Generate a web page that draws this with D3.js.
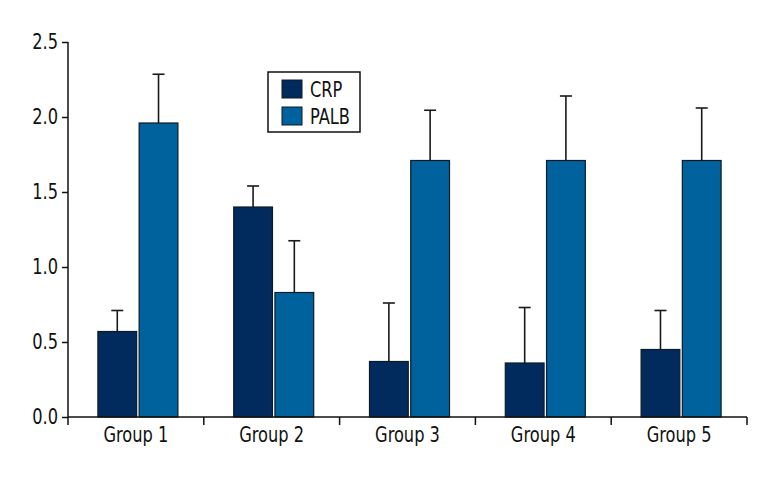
<!DOCTYPE html>
<html><head><meta charset="utf-8">
<script src="https://cdn.jsdelivr.net/npm/d3@7"></script>
<style>
body{margin:0;background:#fff;}
text{font-family:"DejaVu Sans Condensed","DejaVu Sans",sans-serif;font-stretch:condensed;fill:#111;}
</style></head>
<body><svg id="c" width="768" height="480"></svg>
<script>
const groups = ["Group 1","Group 2","Group 3","Group 4","Group 5"];
const seriesNames = ["CRP","PALB"];
const crpMean = [0.57, 1.40, 0.37, 0.36, 0.45];
const crpErr  = [0.71, 1.54, 0.76, 0.73, 0.71];
const palbMean = [1.96, 0.83, 1.71, 1.71, 1.71];
const palbErr  = [2.285, 1.175, 2.045, 2.14, 2.06];
const yTicks = [0, 0.5, 1.0, 1.5, 2.0, 2.5];
const colors = ["#002b5c", "#00629d"];

const svg = d3.select("#c");
const x0 = 68, x1 = 747, yTop = 42, yBot = 417;
const x = d3.scaleBand().domain(groups).range([x0, x1]).paddingInner(0).paddingOuter(0);
const y = d3.scaleLinear().domain([0, 2.5]).range([yBot, yTop]);
const xs = d3.scaleBand().domain(seriesNames).range([0, 80]).paddingInner(0.06);
const offset = (x.bandwidth() - 80) / 2 + 2;
const sx = 0.86;

const data = [];
groups.forEach((g, i) => {
  data.push({g, s: "CRP", v: crpMean[i], e: crpErr[i]});
  data.push({g, s: "PALB", v: palbMean[i], e: palbErr[i]});
});

const eb = svg.append("g");
data.forEach(d => {
  const cx = x(d.g) + offset + xs(d.s) + xs.bandwidth() / 2;
  eb.append("line").attr("x1", cx).attr("x2", cx).attr("y1", y(d.v)).attr("y2", y(d.e))
    .attr("stroke", "#1a1a1a").attr("stroke-width", 1.6);
  eb.append("line").attr("x1", cx - 6).attr("x2", cx + 6).attr("y1", y(d.e)).attr("y2", y(d.e))
    .attr("stroke", "#1a1a1a").attr("stroke-width", 1.6);
});

svg.append("g").selectAll("rect").data(data).join("rect")
  .attr("x", d => x(d.g) + offset + xs(d.s))
  .attr("y", d => y(d.v))
  .attr("width", xs.bandwidth())
  .attr("height", d => y(0) - y(d.v))
  .attr("fill", d => colors[seriesNames.indexOf(d.s)])
  .attr("stroke", "#0d1a26").attr("stroke-width", 1.2);

const yAxis = svg.append("g").attr("transform", `translate(${x0},0)`)
  .call(d3.axisLeft(y).tickValues(yTicks).tickFormat(d3.format(".1f")).tickSize(6).tickPadding(4));
yAxis.select(".domain").attr("d", `M0,${yTop}V${yBot}`).attr("stroke", "#111").attr("stroke-width", 1.5);
yAxis.selectAll(".tick line").attr("stroke", "#111").attr("stroke-width", 1.5);
yAxis.selectAll("text").attr("font-size", 21).attr("font-family", null)
  .attr("x", -10 / sx).attr("transform", `scale(${sx},1)`);

const xAxis = svg.append("g").attr("transform", `translate(0,${yBot})`)
  .call(d3.axisBottom(x).tickSize(0).tickPadding(10));
xAxis.select(".domain").attr("d", `M${x0},0H${x1}`).attr("stroke", "#111").attr("stroke-width", 1.5);
xAxis.selectAll("text").attr("font-size", 21).attr("font-family", null)
  .attr("transform", `scale(${sx},1)`);
const bounds = groups.map(g => x(g)).concat([x1]);
xAxis.selectAll(".bt").data(bounds).join("line").attr("class", "bt")
  .attr("x1", d => d).attr("x2", d => d).attr("y1", 0).attr("y2", 8)
  .attr("stroke", "#111").attr("stroke-width", 1.5);

const lg = svg.append("g");
lg.append("rect").attr("x", 268).attr("y", 72).attr("width", 92).attr("height", 60)
  .attr("fill", "#fff").attr("stroke", "#111").attr("stroke-width", 1.5);
seriesNames.forEach((s, i) => {
  lg.append("rect").attr("x", 282).attr("y", 80 + i * 27).attr("width", 20).attr("height", 18)
    .attr("fill", colors[i]).attr("stroke", "#0d1a26").attr("stroke-width", 1);
  lg.append("text").attr("x", 310 / sx).attr("y", 97 + i * 27).attr("font-size", 21)
    .attr("transform", `scale(${sx},1)`).text(s);
});
</script></body></html>
